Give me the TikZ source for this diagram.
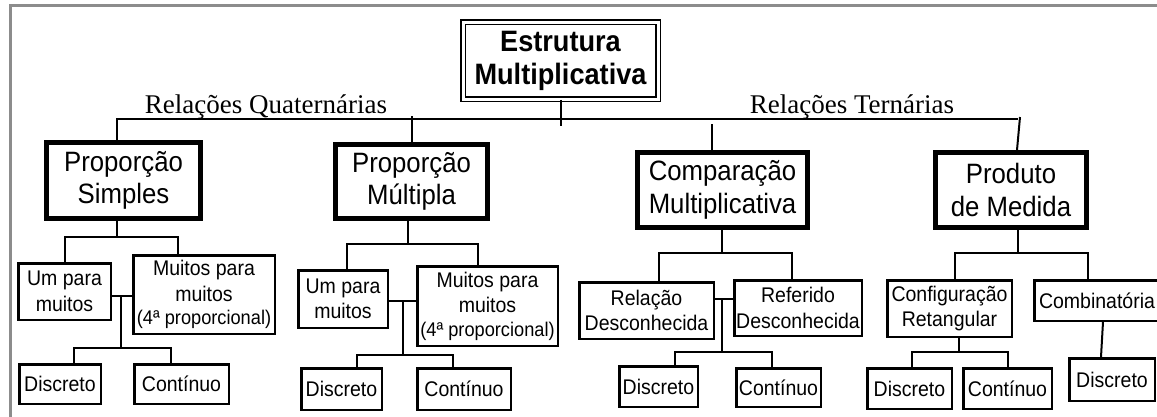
\documentclass[tikz,border=0pt]{standalone}
\usepackage{fontspec}
\setmainfont{Liberation Serif}
\setsansfont{Liberation Sans}[FakeStretch=0.92]
\definecolor{framegray}{RGB}{140,140,140}
\begin{document}
\begin{tikzpicture}[x=1pt,y=-1pt,
  big/.style={draw, line width=5pt, inner sep=0pt, align=center, font=\sffamily\fontsize{28}{32.5}\selectfont},
  small/.style={draw, line width=2.5pt, inner sep=0pt, align=center, font=\sffamily\fontsize{21.2}{25.5}\selectfont},
  conn/.style={line width=2.5pt},
  thinconn/.style={line width=1.8pt},
  slant/.style={line width=2pt},
  rel/.style={font=\rmfamily\fontsize{27}{30}\selectfont, anchor=base, inner sep=0pt}]
\useasboundingbox (0,0) rectangle (1157,416);
\fill[white] (0,0) rectangle (1157,416);
\clip (0,0) rectangle (1157,416);
% frame
\draw[framegray, line width=3pt] (10.5,420) -- (10.5,5.5) -- (1160,5.5);
% top node
\node[draw, double, double distance=3pt, line width=1.5pt, inner sep=0pt,
  minimum width=195pt, minimum height=77pt, align=center,
  font=\sffamily\bfseries\fontsize{29.5}{33}\selectfont] (top) at (560.5,60.5) {Estrutura\\Multiplicativa};
% labels
\node[rel] (rq) at (266,113) {Relações Quaternárias};
\node[rel] (rt) at (852,113) {Relações Ternárias};
% level 1
\node[big, minimum width=154pt, minimum height=76pt] (PS) at (123.5,180.5) {Proporção\\Simples};
\node[big, minimum width=152pt, minimum height=74pt] (PM) at (411.5,181.5) {Proporção\\Múltipla};
\node[big, minimum width=170pt, minimum height=75pt] (CM) at (722.5,190) {Comparação\\Multiplicativa};
\node[big, minimum width=151pt, minimum height=75pt] (PD) at (1011,190) {Produto\\de Medida};
% level 2
\node[small, minimum width=92.5pt, minimum height=56.5pt] (U1) at (64.5,291.5) {Um para\\muitos};
\node[small, minimum width=141.5pt, minimum height=78.5pt] (M1) at (204,294.5) {Muitos para\\muitos\\[-2pt]{\fontsize{19.8}{22}\selectfont(4ª proporcional)}};
\node[small, minimum width=89.5pt, minimum height=57.5pt] (U2) at (343,299) {Um para\\muitos};
\node[small, minimum width=140.5pt, minimum height=79.5pt] (M2) at (487.5,306) {Muitos para\\muitos\\[-2pt]{\fontsize{19.8}{22}\selectfont(4ª proporcional)}};
\node[small, minimum width=134.5pt, minimum height=56.5pt] (R3) at (646.5,310.5) {Relação\\Desconhecida};
\node[small, minimum width=127.5pt, minimum height=55.5pt] (RF) at (798,308) {Referido\\Desconhecida};
\node[small, minimum width=124.5pt, minimum height=56.5pt] (CF) at (949.5,308.5) {Configuração\\Retangular};
\node[small, minimum width=125.5pt, minimum height=40.5pt] (CB) at (1097,300.5) {Combinatória};
% level 3
\node[small, minimum width=81.5pt, minimum height=39.5pt] (D1) at (60,384) {Discreto};
\node[small, minimum width=94.5pt, minimum height=39.5pt] (C1) at (181.5,384) {Contínuo};
\node[small, minimum width=80.5pt, minimum height=41.5pt] (D2) at (341.5,389) {Discreto};
\node[small, minimum width=93.5pt, minimum height=41.5pt] (C2) at (464,389) {Contínuo};
\node[small, minimum width=78.5pt, minimum height=40.5pt] (D3) at (658.5,386.5) {Discreto};
\node[small, minimum width=84.5pt, minimum height=38.5pt] (C3) at (778.5,387.5) {Contínuo};
\node[small, minimum width=84.5pt, minimum height=40.5pt] (D4) at (909.5,388.5) {Discreto};
\node[small, minimum width=88.5pt, minimum height=40.5pt] (C4) at (1007.5,388.5) {Contínuo};
\node[small, minimum width=85.5pt, minimum height=42.5pt] (D5) at (1112,379.5) {Discreto};
% main bus
\coordinate (busR) at (1018,119);
\coordinate (busRtop) at (1020,117);
\draw[conn] ([xshift=-6.5pt]PS.north) |- (busR);
\draw[slant] (busRtop) -- ([xshift=6pt]PD.north);
\draw[conn] ([xshift=0.5pt]top.south) -- ++(0,26);
\draw[conn] ([xshift=0.5pt]PM.north) -- ([xshift=0.5pt]PM.north |- 0,116);
\draw[conn] ([xshift=-10.5pt]CM.north) -- ([xshift=-10.5pt]CM.north |- 0,123.5);
% PS subtree
\coordinate (ps1) at (117,237);
\draw[conn] ([xshift=-6.5pt]PS.south) -- (ps1);
\draw[conn] ([xshift=0.5pt]U1.north) |- ([xshift=-26pt]M1.north |- ps1) -- ([xshift=-26pt]M1.north);
\draw[thinconn] (U1.east |- 0,296) -- ([xshift=3pt]M1.west |- 0,296);
\draw[thinconn] (121,296) -- (121,348);
\draw[conn] ([xshift=14pt]D1.north) |- ([xshift=-10.5pt]C1.north |- 0,348) -- ([xshift=-10.5pt]C1.north);
% PM subtree
\coordinate (pm1) at (408,244);
\draw[conn] ([xshift=-3.5pt]PM.south) -- (pm1);
\draw[conn] ([xshift=4pt]U2.north) |- ([xshift=-9.5pt]M2.north |- pm1) -- ([xshift=-9.5pt]M2.north);
\draw[thinconn] (U2.east |- 0,301) -- ([xshift=3pt]M2.west |- 0,301);
\draw[thinconn] (403,301) -- (403,355);
\draw[conn] ([xshift=15.5pt]D2.north) |- ([xshift=-11pt]C2.north |- 0,355) -- ([xshift=-11pt]C2.north);
% CM subtree
\coordinate (cm1) at (722,253);
\draw[conn] ([xshift=-0.5pt]CM.south) -- (cm1);
\draw[conn] ([xshift=12.5pt]R3.north) |- ([xshift=-6pt]RF.north |- cm1) -- ([xshift=-6pt]RF.north);
\draw[thinconn] ([xshift=-2pt]R3.east |- 0,299) -- ([xshift=1pt]RF.west |- 0,299);
\draw[thinconn] (722,299) -- (722,352);
\draw[conn] ([xshift=16.5pt]D3.north) |- ([xshift=-6.5pt]C3.north |- 0,352) -- ([xshift=-6.5pt]C3.north);
% PD subtree
\coordinate (pd1) at (1018,253);
\draw[conn] ([xshift=7pt]PD.south) -- (pd1);
\draw[conn] ([xshift=5.5pt]CF.north) |- ([xshift=-9pt]CB.north |- pd1) -- ([xshift=-9pt]CB.north);
\coordinate (cf1) at (959,352);
\draw[conn] ([xshift=9.5pt]CF.south) -- (cf1);
\draw[conn] ([xshift=2.5pt]D4.north) |- ([xshift=0.5pt]C4.north |- cf1) -- ([xshift=0.5pt]C4.north);
\draw[slant] ([xshift=6pt]CB.south) -- ([xshift=-11pt]D5.north);
\end{tikzpicture}
\end{document}
